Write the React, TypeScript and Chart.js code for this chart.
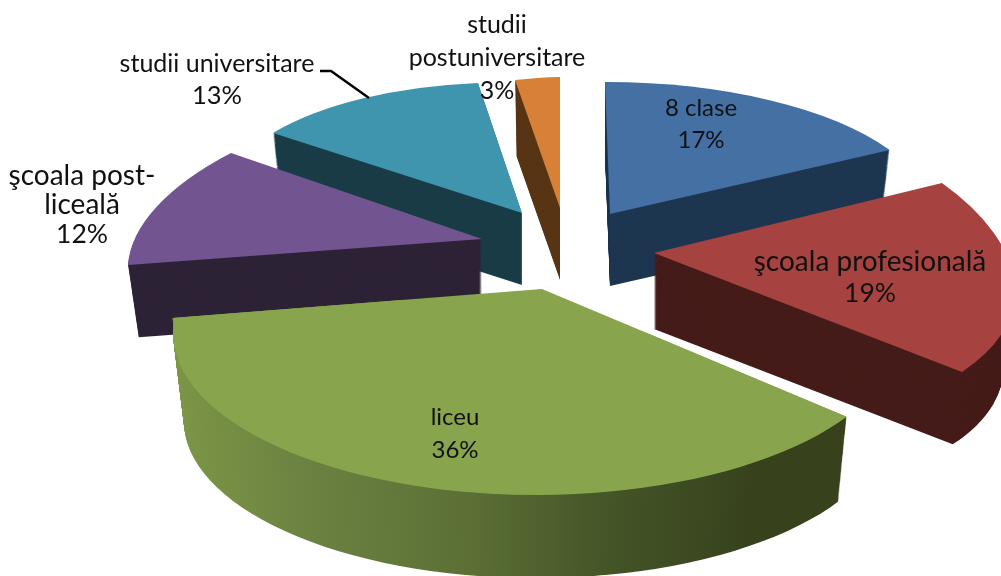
import React, { useEffect, useRef } from "react";
import { Chart, registerables } from "chart.js";

Chart.register(...registerables);

// ---- data ----
const categories = ["8 clase", "şcoala profesională", "liceu", "şcoala post-liceală", "studii universitare", "studii postuniversitare"];
const shares = [17, 19, 36, 12, 13, 3];
const labelLines = [["8 clase"], ["şcoala profesională"], ["liceu"], ["şcoala post-", "liceală"], ["studii universitare"], ["studii", "postuniversitare"]];

// ---- styles ----
const topColors = ["#4470A4", "#A64340", "#88A44D", "#725590", "#4095AE", "#D78038"];
const wallColors = ["#1E3650", "#451C19", "#37421D", "#2D2236", "#1A3C47", "#583515"];
const liceuWallStops = ["#7C9546", "#6A8040", "#5C7036", "#445527", "#37421D", "#37421D"];

// per-slice 3D view: projection matrix (a,b,c,d), exploded origin (e,f), extrusion depth
const sliceViews: any[] = [
  { a: 322, b: -0.5, c: 5, d: 132, e: 610, f: 214, depth: 72 },
  { a: 357, b: 13.7, c: 51.6, d: 170, e: 654, f: 253, depth: 76 },
  {
    a: 380, b: 7.1, c: 18.8, d: 192, e: 542, f: 289, depth: 88,
    // perspective: the near rim is an ellipse whose centre lies below the slice origin
    rim: { a: 363, d: 162, e: 536, f: 333, widen: 0.7 },
    wedge: [[542, 289], [1152, 545], [900, 1100], [100, 1100], [-198, 347]],
  },
  { a: 345.8, b: 3.2, c: -76.4, d: 155.5, e: 482, f: 239, depth: 73 },
  { a: 303.2, b: 12.2, c: -13.1, d: 130, e: 522, f: 213, depth: 72 },
  { a: 240, b: -3.7, c: 0, d: 131, e: 560, f: 208, depth: 72 },
];
const paintOrder = [5, 4, 0, 3, 1, 2];
const wallShrink = 0.03;

const labelAnchors = [
  { x: 701, y: 108 },
  { x: 870, y: 262 },
  { x: 455, y: 417 },
  { x: 82, y: 176 },
  { x: 217, y: 64 },
  { x: 497, y: 25 },
];
const lineHeights = [32, 31, 33, 29, 32, 33];
const labelSizes = [24, 28, 24, 28, 25, 25];
const percentSizes = [24, 26.5, 24, 26.5, 25.5, 25];
const leader = [[320, 71], [331, 71], [369, 98]];

const pie3d = {
  id: "pie3d",
  beforeDatasetsDraw(chart: any) {
    const ctx = chart.ctx;
    const arcs = chart.getDatasetMeta(0).data;
    const drawLayer = (arc: any, v: any, drop: number, shrink: number) => {
      const R = arc.outerRadius;
      const k = (1 - shrink) / R;
      ctx.setTransform(v.a * k, v.b * k, v.c * k, v.d * k, v.e, v.f + drop);
      ctx.translate(-arc.x, -arc.y);
      arc.draw(ctx);
      if (v.rim) {
        const { startAngle, endAngle, circumference } = arc;
        ctx.save();
        ctx.setTransform(1, 0, 0, 1, 0, 0);
        ctx.beginPath();
        v.wedge.forEach(([x, y]: number[], n: number) => (n ? ctx.lineTo(x, y + drop) : ctx.moveTo(x, y + drop)));
        ctx.closePath();
        ctx.clip();
        ctx.setTransform(v.rim.a * k, 0, 0, v.rim.d * k, v.rim.e, v.rim.f + drop);
        ctx.translate(-arc.x, -arc.y);
        arc.startAngle = startAngle - v.rim.widen;
        arc.endAngle = endAngle + v.rim.widen;
        arc.circumference = circumference + 2 * v.rim.widen;
        arc.draw(ctx);
        arc.startAngle = startAngle;
        arc.endAngle = endAngle;
        arc.circumference = circumference;
        ctx.restore();
      }
    };
    for (const i of paintOrder) {
      const arc = arcs[i];
      const v = sliceViews[i];
      const R = arc.outerRadius;
      const base = arc.options;
      ctx.save();
      let wall: any = wallColors[i];
      if (i === 2) {
        wall = ctx.createLinearGradient(arc.x - R, 0, arc.x + R, 0);
        liceuWallStops.forEach((c, s) => wall.addColorStop(s / (liceuWallStops.length - 1), c));
      }
      arc.options = { ...base, backgroundColor: wall, borderWidth: 0 };
      for (let step = v.depth; step >= 1; step--) {
        drawLayer(arc, v, step, (wallShrink * step) / v.depth);
      }
      arc.options = { ...base, backgroundColor: topColors[i], borderWidth: 0 };
      drawLayer(arc, v, 0, 0);
      arc.options = base;
      ctx.restore();
    }
    return false;
  },
  afterDraw(chart: any) {
    const ctx = chart.ctx;
    ctx.save();
    ctx.setTransform(1, 0, 0, 1, 0, 0);
    ctx.strokeStyle = "#000";
    ctx.lineWidth = 2.4;
    ctx.beginPath();
    leader.forEach(([x, y], i) => (i ? ctx.lineTo(x, y) : ctx.moveTo(x, y)));
    ctx.stroke();
    ctx.fillStyle = "#111";
    ctx.textAlign = "center";
    ctx.textBaseline = "middle";
    labelLines.forEach((lines, i) => {
      const a = labelAnchors[i];
      ctx.font = `${labelSizes[i]}px Lato, "Open Sans", sans-serif`;
      lines.forEach((t, r) => ctx.fillText(t, a.x, a.y + r * lineHeights[i]));
      ctx.font = `${percentSizes[i]}px Lato, "Open Sans", sans-serif`;
      ctx.fillText(`${shares[i]}%`, a.x, a.y + lines.length * lineHeights[i]);
    });
    ctx.restore();
  },
};

export default function App() {
  const ref = useRef<HTMLCanvasElement>(null);
  useEffect(() => {
    document.body.style.margin = "0";
    document.body.style.background = "#fff";
    const chart = new Chart(ref.current!, {
      type: "pie",
      data: {
        labels: categories,
        datasets: [{ data: shares, backgroundColor: topColors, borderWidth: 0 }],
      },
      options: {
        animation: false,
        responsive: false,
        plugins: { legend: { display: false }, tooltip: { enabled: false } },
      },
      plugins: [pie3d],
    } as any);
    return () => chart.destroy();
  }, []);
  return <canvas ref={ref} width={1001} height={576} style={{ display: "block" }} />;
}
